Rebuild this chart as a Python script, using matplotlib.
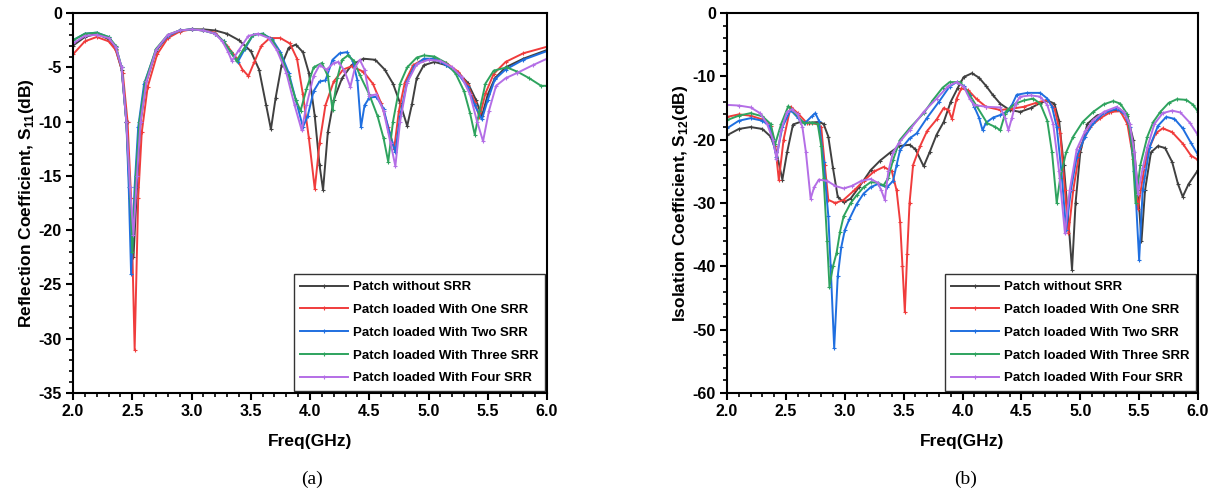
import numpy as np
import matplotlib.pyplot as plt
from matplotlib.ticker import MultipleLocator

plt.rcParams['font.family'] = 'Liberation Sans'
plt.rcParams['font.weight'] = 'bold'
plt.rcParams['axes.unicode_minus'] = False
plt.rcParams['mathtext.fontset'] = 'custom'
plt.rcParams['mathtext.rm'] = 'Liberation Sans:bold'
plt.rcParams['mathtext.bf'] = 'Liberation Sans:bold'

labels = ['Patch without SRR', 'Patch loaded With One SRR', 'Patch loaded With Two SRR',
          'Patch loaded With Three SRR', 'Patch loaded With Four SRR']
colors = ['#404040', '#f03c3c', '#1f6fe0', '#2ea35e', '#b46ee6']

# ---- (a) S11 ----
s11_none = [(2.0, -3.0), (2.1, -2.2), (2.2, -1.9), (2.3, -2.4), (2.36, -3.3), (2.41, -5.2), (2.45, -10), (2.48, -17),
            (2.51, -22.5), (2.54, -16), (2.57, -10), (2.62, -6.3), (2.7, -3.5), (2.8, -2.1), (2.9, -1.6), (3.0, -1.5),
            (3.1, -1.5), (3.2, -1.6), (3.3, -1.9), (3.4, -2.5), (3.5, -3.5), (3.57, -5.2), (3.63, -8.5), (3.67, -10.7),
            (3.71, -7.8), (3.76, -4.8), (3.82, -3.2), (3.88, -2.9), (3.94, -3.6), (3.99, -5.5), (4.04, -9.5), (4.08, -14),
            (4.11, -16.3), (4.15, -11), (4.2, -8), (4.27, -6), (4.35, -4.8), (4.45, -4.2), (4.55, -4.3), (4.63, -5.2),
            (4.7, -6.5), (4.76, -8.3), (4.82, -10.4), (4.86, -8.4), (4.9, -6), (4.96, -4.8), (5.05, -4.5), (5.15, -4.8),
            (5.25, -5.5), (5.33, -6.4), (5.4, -8), (5.45, -9.5), (5.5, -7.5), (5.56, -6.0), (5.65, -5.0), (5.8, -4.2),
            (6.0, -3.4)]
s11_one = [(2.0, -3.8), (2.1, -2.6), (2.2, -2.2), (2.3, -2.6), (2.36, -3.4), (2.42, -5.5), (2.46, -10), (2.49, -17),
           (2.52, -31), (2.55, -17), (2.58, -11), (2.63, -6.8), (2.71, -3.8), (2.8, -2.3), (2.9, -1.7), (3.0, -1.5),
           (3.1, -1.6), (3.2, -1.8), (3.3, -3.0), (3.37, -4.0), (3.43, -5.2), (3.48, -5.8), (3.53, -4.5), (3.59, -3.0),
           (3.66, -2.3), (3.75, -2.3), (3.83, -2.8), (3.89, -4.2), (3.94, -7.5), (3.99, -11.5), (4.04, -16.2), (4.08, -12),
           (4.13, -8.5), (4.2, -6.3), (4.28, -5.2), (4.35, -4.9), (4.45, -5.4), (4.53, -6.5), (4.6, -8.3), (4.66, -10.5),
           (4.71, -12.5), (4.75, -9), (4.8, -6.4), (4.87, -4.8), (4.95, -4.3), (5.05, -4.2), (5.15, -4.6), (5.25, -5.4),
           (5.33, -6.6), (5.39, -8.2), (5.43, -9.6), (5.48, -7.4), (5.55, -5.6), (5.65, -4.5), (5.8, -3.7), (6.0, -3.1)]
s11_two = [(2.0, -2.5), (2.1, -1.9), (2.2, -1.8), (2.3, -2.2), (2.36, -3.1), (2.41, -5.0), (2.45, -10), (2.47, -16),
           (2.49, -24.0), (2.52, -16), (2.55, -10.5), (2.6, -6.5), (2.7, -3.4), (2.8, -2.1), (2.9, -1.6), (3.0, -1.5),
           (3.1, -1.6), (3.2, -1.9), (3.27, -2.6), (3.33, -3.6), (3.39, -4.5), (3.45, -3.3), (3.52, -2.0), (3.6, -1.9),
           (3.68, -2.4), (3.75, -3.6), (3.82, -5.5), (3.88, -8), (3.94, -10.5), (3.98, -9.5), (4.03, -7.2), (4.08, -6.3),
           (4.13, -6.2), (4.19, -4.3), (4.25, -3.7), (4.31, -3.6), (4.36, -4.4), (4.4, -6.2), (4.43, -10.5), (4.46, -8.5),
           (4.5, -7.8), (4.56, -7.7), (4.62, -8.8), (4.67, -11), (4.72, -12.8), (4.76, -9.5), (4.82, -6.3), (4.88, -4.9),
           (4.96, -4.2), (5.05, -4.2), (5.15, -4.8), (5.25, -5.6), (5.33, -6.8), (5.39, -8.5), (5.45, -9.8), (5.5, -8),
           (5.56, -6.1), (5.65, -5.2), (5.8, -4.3), (6.0, -3.5)]
s11_three = [(2.0, -2.5), (2.1, -1.9), (2.2, -1.8), (2.3, -2.2), (2.36, -3.0), (2.41, -5.0), (2.45, -10), (2.48, -16),
             (2.5, -22), (2.53, -15), (2.56, -10), (2.61, -6.3), (2.7, -3.3), (2.8, -2.0), (2.9, -1.6), (3.0, -1.5),
             (3.1, -1.6), (3.2, -1.9), (3.27, -2.6), (3.33, -3.6), (3.38, -4.4), (3.44, -3.3), (3.52, -2.0), (3.6, -1.9),
             (3.68, -2.5), (3.75, -3.8), (3.82, -5.8), (3.88, -8), (3.92, -9.0), (3.97, -7.0), (4.03, -5.0), (4.1, -4.6),
             (4.15, -5.8), (4.19, -8.9), (4.23, -6.0), (4.27, -4.3), (4.32, -3.9), (4.37, -4.4), (4.42, -5.7), (4.5, -7.5),
             (4.57, -9.5), (4.62, -11.5), (4.66, -13.7), (4.7, -10), (4.76, -6.5), (4.82, -5.0), (4.9, -4.1), (4.96, -3.9),
             (5.05, -4.0), (5.15, -4.6), (5.23, -5.6), (5.3, -7.2), (5.35, -9.2), (5.39, -11.2), (5.43, -9), (5.48, -6.5),
             (5.55, -5.3), (5.66, -5.0), (5.75, -5.4), (5.85, -6.0), (5.95, -6.7), (6.0, -6.7)]
s11_four = [(2.0, -2.8), (2.1, -2.1), (2.2, -2.0), (2.3, -2.3), (2.36, -3.1), (2.41, -5.0), (2.45, -10), (2.48, -16),
            (2.51, -20.4), (2.54, -15), (2.57, -10), (2.62, -6.3), (2.7, -3.4), (2.8, -2.0), (2.9, -1.6), (3.0, -1.5),
            (3.1, -1.6), (3.2, -1.9), (3.26, -2.6), (3.31, -3.6), (3.34, -4.4), (3.4, -3.4), (3.48, -2.1), (3.56, -1.9),
            (3.65, -2.3), (3.72, -3.4), (3.8, -5.5), (3.87, -8.5), (3.93, -10.8), (3.97, -8.5), (4.03, -5.8), (4.08, -4.8),
            (4.14, -5.2), (4.2, -4.6), (4.24, -4.5), (4.29, -5.3), (4.34, -6.8), (4.38, -5.0), (4.42, -4.3), (4.46, -5.2),
            (4.5, -7.6), (4.56, -7.5), (4.62, -9), (4.68, -12), (4.72, -14.1), (4.76, -10), (4.82, -6.4), (4.9, -4.7),
            (5.0, -4.3), (5.1, -4.4), (5.2, -5.0), (5.28, -5.9), (5.35, -7.5), (5.41, -10), (5.46, -11.8), (5.51, -9),
            (5.57, -6.7), (5.65, -6.0), (5.75, -5.5), (5.88, -4.8), (6.0, -4.2)]

# ---- (b) S12 ----
s12_none = [(2.0, -19.3), (2.1, -18.3), (2.2, -18.0), (2.3, -18.3), (2.37, -19.5), (2.42, -22), (2.47, -26.3), (2.51, -22),
            (2.56, -17.6), (2.62, -17.2), (2.7, -17.3), (2.78, -17.2), (2.82, -17.5), (2.86, -19.5), (2.9, -24.5),
            (2.94, -29.0), (2.99, -29.9), (3.05, -29.3), (3.12, -27.5), (3.22, -24.8), (3.3, -23.3), (3.38, -22.1),
            (3.46, -21.0), (3.55, -20.8), (3.6, -21.5), (3.67, -24.2), (3.72, -22), (3.78, -19.2), (3.84, -17.2),
            (3.9, -14), (3.96, -11.8), (4.01, -10.1), (4.08, -9.5), (4.14, -10.2), (4.2, -11.5), (4.26, -13), (4.32, -14.3),
            (4.4, -15.3), (4.49, -15.6), (4.58, -15), (4.66, -14.2), (4.72, -13.8), (4.78, -14.3), (4.82, -17), (4.86, -24),
            (4.9, -33), (4.93, -40.5), (4.96, -30), (5.0, -22), (5.06, -17.5), (5.14, -16.2), (5.24, -15.6), (5.34, -15.3),
            (5.4, -16.2), (5.45, -20), (5.49, -28), (5.52, -36), (5.55, -28), (5.6, -22), (5.66, -21.0), (5.72, -21.3),
            (5.78, -23.5), (5.83, -27), (5.87, -29), (5.92, -27), (6.0, -24.8)]
s12_one = [(2.0, -16.4), (2.1, -16.0), (2.2, -16.2), (2.3, -16.8), (2.37, -17.8), (2.41, -21), (2.44, -26.4), (2.48, -20),
           (2.54, -14.8), (2.6, -15.8), (2.68, -17.4), (2.76, -17.5), (2.8, -18), (2.83, -24), (2.86, -29.5), (2.92, -30),
           (2.99, -29.5), (3.08, -28.0), (3.16, -26.5), (3.25, -25.0), (3.33, -24.3), (3.4, -25), (3.44, -28), (3.47, -33),
           (3.49, -40), (3.51, -47.2), (3.53, -38), (3.55, -30), (3.58, -24), (3.64, -21.0), (3.7, -18.6), (3.78, -16.8),
           (3.84, -15.0), (3.88, -15.3), (3.91, -16.7), (3.95, -13.5), (3.99, -11.9), (4.05, -12.2), (4.12, -13.6),
           (4.2, -14.8), (4.32, -15.3), (4.42, -15.1), (4.52, -14.8), (4.62, -14.2), (4.72, -13.7), (4.78, -15), (4.83, -19),
           (4.87, -28), (4.9, -34.8), (4.94, -28), (5.0, -21.1), (5.08, -18), (5.17, -16.6), (5.26, -15.6), (5.34, -15.5),
           (5.4, -17.5), (5.45, -23), (5.49, -31), (5.53, -26), (5.57, -22), (5.64, -19.0), (5.7, -18.2), (5.78, -18.8),
           (5.87, -20.6), (5.94, -22.5), (6.0, -23.2)]
s12_two = [(2.0, -18.2), (2.1, -17.0), (2.2, -16.6), (2.3, -17.0), (2.36, -17.8), (2.42, -22.7), (2.47, -18), (2.54, -15.3),
           (2.6, -16.5), (2.66, -17.4), (2.72, -16.3), (2.75, -15.8), (2.78, -17), (2.82, -23.5), (2.86, -32), (2.88, -40),
           (2.91, -52.9), (2.94, -41.6), (2.97, -37), (3.0, -34.3), (3.04, -32.5), (3.1, -30.2), (3.16, -28.5), (3.22, -27.5),
           (3.28, -27.0), (3.36, -27.5), (3.41, -26.5), (3.44, -24), (3.47, -21.6), (3.55, -19.8), (3.61, -19.0),
           (3.7, -16.5), (3.8, -14), (3.89, -11.6), (3.95, -10.9), (4.01, -11.5), (4.06, -13.0), (4.1, -14.8), (4.14, -16.5),
           (4.17, -18.5), (4.2, -17.3), (4.26, -16.5), (4.32, -16.1), (4.38, -15.5), (4.42, -14.5), (4.46, -12.9),
           (4.55, -12.6), (4.66, -12.6), (4.72, -13.5), (4.76, -14.8), (4.8, -18), (4.84, -25), (4.88, -34.3), (4.92, -28),
           (4.97, -22.7), (5.04, -19.5), (5.11, -17.4), (5.2, -15.8), (5.31, -15.1), (5.38, -16), (5.42, -18), (5.46, -25),
           (5.5, -39), (5.53, -28), (5.59, -21.1), (5.66, -17.8), (5.73, -16.4), (5.8, -16.7), (5.87, -18.2), (5.94, -20.5),
           (6.0, -22.4)]
s12_three = [(2.0, -16.9), (2.1, -16.2), (2.2, -15.8), (2.3, -16.3), (2.37, -17.5), (2.41, -20.6), (2.46, -17.5),
             (2.52, -14.7), (2.58, -15.8), (2.65, -17.4), (2.72, -17.3), (2.77, -17.5), (2.8, -21), (2.82, -26), (2.85, -36),
             (2.87, -43.2), (2.9, -40), (2.93, -37.9), (2.96, -34.5), (2.99, -32.1), (3.05, -30.0), (3.1, -28.8),
             (3.16, -27.5), (3.22, -26.7), (3.28, -26.8), (3.33, -27.2), (3.37, -26), (3.41, -23.2), (3.47, -20.0),
             (3.55, -18.2), (3.67, -15.8), (3.75, -13.7), (3.83, -11.8), (3.89, -10.9), (3.98, -10.9), (4.05, -12.6),
             (4.12, -14.7), (4.21, -17.4), (4.28, -18.0), (4.32, -18.5), (4.36, -16), (4.38, -15.3), (4.45, -14.3),
             (4.52, -13.8), (4.6, -13.5), (4.66, -14.3), (4.72, -17), (4.76, -22), (4.8, -30), (4.83, -26), (4.88, -22),
             (4.94, -19.5), (5.02, -17.2), (5.11, -15.6), (5.2, -14.4), (5.28, -13.9), (5.34, -14.3), (5.4, -16), (5.44, -21),
             (5.47, -30), (5.51, -24), (5.57, -19.5), (5.62, -17.2), (5.68, -15.6), (5.75, -14.2), (5.82, -13.6),
             (5.9, -13.7), (5.96, -14.5), (6.0, -15.6)]
s12_four = [(2.0, -14.5), (2.1, -14.6), (2.2, -14.9), (2.28, -15.8), (2.34, -17.5), (2.39, -20), (2.42, -23), (2.46, -18.5),
            (2.51, -15.6), (2.55, -15.2), (2.6, -16), (2.64, -18), (2.67, -22), (2.71, -29.3), (2.74, -27.5), (2.78, -26.3),
            (2.85, -26.5), (2.92, -27.3), (2.99, -27.7), (3.06, -27.3), (3.14, -26.5), (3.22, -26.2), (3.28, -26.8),
            (3.31, -28), (3.34, -29.5), (3.37, -25), (3.41, -22), (3.46, -20.5), (3.55, -18.5), (3.67, -15.6), (3.78, -13.5),
            (3.88, -11.5), (3.95, -10.9), (4.01, -11.6), (4.06, -13.5), (4.1, -14.5), (4.2, -14.8), (4.32, -14.9),
            (4.36, -16.5), (4.39, -18.5), (4.42, -16.5), (4.45, -14.3), (4.49, -13.2), (4.58, -13.0), (4.66, -13.2),
            (4.72, -14.5), (4.77, -17.5), (4.82, -25), (4.87, -34.8), (4.91, -28), (4.97, -21.5), (5.04, -18.7),
            (5.11, -16.9), (5.2, -15.6), (5.31, -14.8), (5.37, -15.6), (5.42, -17.5), (5.46, -22), (5.49, -28.5),
            (5.53, -24.5), (5.57, -21.2), (5.63, -17.5), (5.7, -15.8), (5.78, -15.4), (5.85, -15.7), (5.93, -17.3),
            (6.0, -19.3)]

fig = plt.figure(figsize=(12.17, 4.94), dpi=100)
ax1 = fig.add_axes([0.060, 0.2045, 0.3895, 0.769])
ax2 = fig.add_axes([0.5974, 0.2045, 0.387, 0.769])


def draw(ax, curves, ylim, ymajor, yminor, ylabel):
    for data, c, lab in zip(curves, colors, labels):
        d = np.array(data)
        ax.plot(d[:, 0], d[:, 1], color=c, lw=1.4, marker='+', ms=3, mew=0.8, label=lab)
    ax.set_xlim(2.0, 6.0)
    ax.set_ylim(*ylim)
    ax.xaxis.set_major_locator(MultipleLocator(0.5))
    ax.xaxis.set_minor_locator(MultipleLocator(0.1))
    ax.yaxis.set_major_locator(MultipleLocator(ymajor))
    ax.yaxis.set_minor_locator(MultipleLocator(yminor))
    ax.xaxis.set_major_formatter(plt.FormatStrFormatter('%.1f'))
    ax.tick_params(which='major', direction='out', length=5, width=1.5, labelsize=11.5, pad=3)
    ax.tick_params(which='minor', direction='out', length=3, width=1.2)
    for s in ax.spines.values():
        s.set_linewidth(1.5)
    ax.set_xlabel('Freq(GHz)', fontsize=12.5, fontweight='bold', labelpad=11)
    ax.set_ylabel(ylabel, fontsize=12.5, fontweight='bold', labelpad=2)
    leg = ax.legend(loc='lower right', fontsize=9.5, frameon=True, fancybox=False, edgecolor='black',
                    borderaxespad=0.15, handlelength=3.6, handletextpad=0.4, labelspacing=0.8,
                    borderpad=0.5, markerscale=0.8)
    leg.get_frame().set_linewidth(1.0)
    for t in leg.get_texts():
        t.set_fontweight('bold')


draw(ax1, [s11_none, s11_one, s11_two, s11_three, s11_four], (-35, 0), 5, 1,
     r'Reflection Coefficient, S$_\mathbf{11}$(dB)')
draw(ax2, [s12_none, s12_one, s12_two, s12_three, s12_four], (-60, 0), 10, 2,
     r'Isolation Coefficient, S$_\mathbf{12}$(dB)')

fig.text(0.256, 0.02, '(a)', family='Liberation Serif', fontweight='normal', fontsize=14, ha='center')
fig.text(0.793, 0.02, '(b)', family='Liberation Serif', fontweight='normal', fontsize=14, ha='center')

fig.savefig('out.png', dpi=100)
